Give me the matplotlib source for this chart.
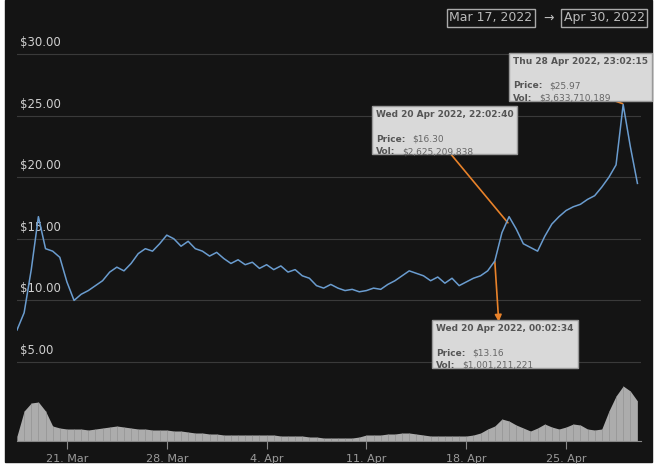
import pandas as pd
import matplotlib.pyplot as plt
from matplotlib.patches import Rectangle

# 가격 (12시간 간격, 2022-03-17 12:00 부터)
prices = [7.6, 9.0, 12.5, 16.8, 14.2, 14.0, 13.5, 11.5, 10.0, 10.5, 10.8, 11.2, 11.6,
          12.3, 12.7, 12.4, 13.0, 13.8, 14.2, 14.0, 14.6, 15.3, 15.0, 14.4, 14.8, 14.2,
          14.0, 13.6, 13.9, 13.4, 13.0, 13.3, 12.9, 13.1, 12.6, 12.9, 12.5, 12.8, 12.3,
          12.5, 12.0, 11.8, 11.2, 11.0, 11.3, 11.0, 10.8, 10.9, 10.7, 10.8, 11.0, 10.9,
          11.3, 11.6, 12.0, 12.4, 12.2, 12.0, 11.6, 11.9, 11.4, 11.8, 11.2, 11.5, 11.8,
          12.0, 12.4, 13.2, 15.5, 16.8, 15.8, 14.6, 14.3, 14.0, 15.2, 16.2, 16.8, 17.3,
          17.6, 17.8, 18.2, 18.5, 19.2, 20.0, 21.0, 25.9, 22.5, 19.5]
# 거래량 (십억 달러)
volumes = [0.5, 3.0, 3.8, 3.9, 3.0, 1.5, 1.3, 1.2, 1.2, 1.2, 1.1, 1.2, 1.3,
           1.4, 1.5, 1.4, 1.3, 1.2, 1.2, 1.1, 1.1, 1.1, 1.0, 1.0, 0.9, 0.8,
           0.8, 0.7, 0.7, 0.6, 0.6, 0.6, 0.6, 0.6, 0.6, 0.6, 0.6, 0.5, 0.5,
           0.5, 0.5, 0.4, 0.4, 0.3, 0.3, 0.3, 0.3, 0.3, 0.4, 0.6, 0.6, 0.6,
           0.7, 0.7, 0.8, 0.8, 0.7, 0.6, 0.5, 0.5, 0.5, 0.5, 0.5, 0.5, 0.6,
           0.8, 1.2, 1.5, 2.2, 2.0, 1.6, 1.3, 1.0, 1.3, 1.7, 1.4, 1.2, 1.4,
           1.7, 1.6, 1.2, 1.1, 1.2, 3.0, 4.5, 5.5, 5.0, 4.0]
start = pd.Timestamp("2022-03-17 12:00")
dates = pd.date_range(start, periods=len(prices), freq="12h")

tick_dates = pd.to_datetime(["2022-03-21", "2022-03-28", "2022-04-04",
                             "2022-04-11", "2022-04-18", "2022-04-25"])
tick_labels = ["21. Mar", "28. Mar", "4. Apr", "11. Apr", "18. Apr", "25. Apr"]
y_ticks = [5, 10, 15, 20, 25, 30]

notes = [
    ("Wed 20 Apr 2022, 22:02:40", "$16.30", "$2,625,209,838",
     pd.Timestamp("2022-04-20 22:02"), 16.30, (0.575, 0.805)),
    ("Thu 28 Apr 2022, 23:02:15", "$25.97", "$3,633,710,189",
     pd.Timestamp("2022-04-28 23:02"), 25.97, (0.795, 0.935)),
    ("Wed 20 Apr 2022, 00:02:34", "$13.16", "$1,001,211,221",
     pd.Timestamp("2022-04-20 00:02"), 13.16, (0.672, 0.285)),
]
arrow_tips = [(0.675, 0.735), (0.895, 0.862), (0.772, 0.29)]

W, H = 662, 473
fig = plt.figure(figsize=(W / 100, H / 100), dpi=100, facecolor="white")
fig.patches.append(Rectangle((5 / W, 11 / H), 647 / W, 462 / H,
                             transform=fig.transFigure, color="#141414", zorder=-1))

ax = fig.add_axes([17 / W, 1 - 441 / H, 624 / W, 411 / H])
ax.set_facecolor("none")
ax.set_ylim(-1.41, 31.95)
ax.set_xlim(pd.Timestamp("2022-03-17 12:00"), pd.Timestamp("2022-04-30 06:00"))
for s in ["top", "right", "left"]:
    ax.spines[s].set_visible(False)
ax.spines["bottom"].set_color("#888888")
ax.set_yticks([])
for v in y_ticks:
    ax.axhline(v, color="#3a3a3a", lw=0.8, zorder=0)
    ax.text(0.005, v + 0.4, f"${v:.2f}", transform=ax.get_yaxis_transform(),
            color="#cfcfcf", fontsize=8.5, va="bottom", ha="left")
ax.set_xticks(tick_dates)
ax.set_xticklabels(tick_labels)
ax.tick_params(axis="x", colors="#888888", labelcolor="#9a9a9a", labelsize=8, length=6)

vax = ax.twinx()
vax.set_ylim(0, 41.1)
vax.axis("off")
vax.fill_between(dates, volumes, color="#c8c8c8", alpha=0.85, lw=0)
vax.vlines(dates, 0, volumes, color="#8a8a8a", lw=0.6, alpha=0.6)

ax.set_zorder(vax.get_zorder() + 1)
ax.plot(dates, prices, color="#6a9ccf", lw=1.1, zorder=5)

for (t, p, v, d, price, pos), tip in zip(notes, arrow_tips):
    ax.annotate("", xy=tip, xycoords="axes fraction", xytext=(d, price),
                textcoords="data",
                arrowprops=dict(arrowstyle="-|>", color="#e8822a", lw=1.2,
                                shrinkA=0, shrinkB=0))
    ax.text(pos[0], pos[1], f"{t}\n\n\n", transform=ax.transAxes, fontsize=6.5,
            fontweight="bold", color="#555555", va="top", ha="left", zorder=10,
            bbox=dict(boxstyle="square,pad=0.45", fc="#d9d9d9", ec="#999999"))
    ax.text(pos[0], pos[1] - 0.06, "Price:", transform=ax.transAxes, fontsize=6.5,
            fontweight="bold", color="#555555", va="top", zorder=11)
    ax.text(pos[0] + 0.058, pos[1] - 0.06, p, transform=ax.transAxes, fontsize=6.5,
            color="#666666", va="top", zorder=11)
    ax.text(pos[0], pos[1] - 0.09, "Vol:", transform=ax.transAxes, fontsize=6.5,
            fontweight="bold", color="#555555", va="top", zorder=11)
    ax.text(pos[0] + 0.042, pos[1] - 0.09, v, transform=ax.transAxes, fontsize=6.5,
            color="#666666", va="top", zorder=11)

box = dict(boxstyle="square,pad=0.2", fc="none", ec="#aaaaaa")
fig.text(491 / W, 1 - 18 / H, "Mar 17, 2022", color="#bbbbbb", fontsize=9,
         ha="center", va="center", bbox=box)
fig.text(549 / W, 1 - 18 / H, "→", color="#bbbbbb", fontsize=9, ha="center", va="center")
fig.text(604 / W, 1 - 18 / H, "Apr 30, 2022", color="#bbbbbb", fontsize=9,
         ha="center", va="center", bbox=box)

fig.savefig("out.png", dpi=100, facecolor="white")
